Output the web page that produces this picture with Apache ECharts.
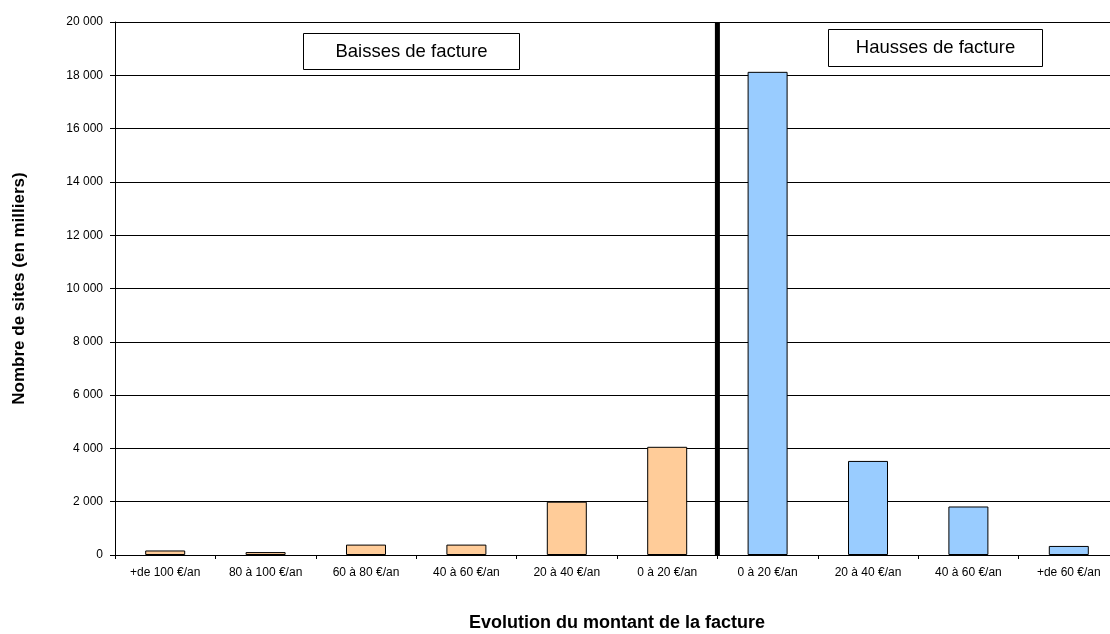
<!DOCTYPE html>
<html>
<head>
    <meta charset="utf-8">
    <title>Evolution du montant de la facture</title>
    <script src="https://cdn.jsdelivr.net/npm/echarts@6/dist/echarts.min.js"></script>
    <style>
        html, body { margin: 0; padding: 0; background: #fff; }
    </style>
</head>
<body>
    <div id="main" style="width: 1110px;height:634px;"></div>

<script>
// categories (baisses puis hausses)
var categories = ['+de 100 €/an', '80 à 100 €/an', '60 à 80 €/an', '40 à 60 €/an', '20 à 40 €/an', '0 à 20 €/an',
                  '0 à 20 €/an', '20 à 40 €/an', '40 à 60 €/an', '+de 60 €/an'];
// nombre de sites (en milliers)
var baisses = [170, 110, 390, 390, 2000, 4060, '-', '-', '-', '-'];
var hausses = ['-', '-', '-', '-', '-', '-', 18130, 3530, 1820, 340];
var yTicks = [0, 20000, 2000]; // min, max, interval

var font = 'Liberation Sans, Arial, sans-serif';

function fmt(v) {
    return String(v).replace(/\B(?=(\d{3})+(?!\d))/g, ' ');
}

var myChart = echarts.init(document.getElementById('main'));
myChart.setOption({
    animation: false,
    // le graphe déborde un peu à droite, comme l'original
    grid: { left: 115, top: 22, width: 1004, height: 533, outerBoundsMode: 'none' },
    xAxis: {
        type: 'category',
        data: categories,
        name: 'Evolution du montant de la facture',
        nameLocation: 'middle',
        nameGap: 59,
        nameTextStyle: { fontFamily: font, fontSize: 18, fontWeight: 'bold', color: '#000' },
        axisLine: { lineStyle: { color: '#000', width: 1 } },
        axisTick: { show: true, length: 4, lineStyle: { color: '#000' } },
        axisLabel: { fontFamily: font, fontSize: 12, color: '#000', margin: 12, interval: 0 }
    },
    yAxis: {
        type: 'value',
        min: yTicks[0],
        max: yTicks[1],
        interval: yTicks[2],
        name: 'Nombre de sites (en milliers)',
        nameLocation: 'middle',
        nameGap: 87,
        nameTextStyle: { fontFamily: font, fontSize: 17, fontWeight: 'bold', color: '#000' },
        axisLine: { show: true, lineStyle: { color: '#000', width: 1 } },
        axisTick: { show: true, length: 5, lineStyle: { color: '#000' } },
        axisLabel: { fontFamily: font, fontSize: 12, color: '#000', margin: 12, formatter: fmt },
        splitLine: { lineStyle: { color: '#000', width: 1 } }
    },
    series: [
        {
            name: 'Baisses',
            type: 'bar',
            data: baisses,
            barWidth: 40,
            barGap: '-100%',
            itemStyle: { color: '#FFCC99', borderColor: '#000', borderWidth: 1 }
        },
        {
            name: 'Hausses',
            type: 'bar',
            data: hausses,
            barWidth: 40,
            itemStyle: { color: '#99CCFF', borderColor: '#000', borderWidth: 1 }
        }
    ]
});

// séparation baisses / hausses, entre la 6e et la 7e catégorie
var p5 = myChart.convertToPixel({ xAxisIndex: 0 }, 5);
var p6 = myChart.convertToPixel({ xAxisIndex: 0 }, 6);
var sepX = (p5 + p6) / 2;
var yTop = myChart.convertToPixel({ yAxisIndex: 0 }, yTicks[1]);
var yBot = myChart.convertToPixel({ yAxisIndex: 0 }, yTicks[0]);

function box(x, y, w, h, txt) {
    return {
        type: 'group',
        children: [
            { type: 'rect', shape: { x: x, y: y, width: w, height: h },
              style: { fill: '#fff', stroke: '#000', lineWidth: 1 } },
            { type: 'text', x: x + w / 2, y: y + h / 2,
              style: { text: txt, font: '18.5px ' + font, fill: '#000', align: 'center', verticalAlign: 'middle' } }
        ]
    };
}

myChart.setOption({
    graphic: [
        { type: 'line', shape: { x1: sepX, y1: yTop, x2: sepX, y2: yBot },
          style: { stroke: '#000', lineWidth: 5 }, z: 10 },
        box(303.5, 33.5, 216, 36, 'Baisses de facture'),
        box(828.5, 29.5, 214, 37, 'Hausses de facture')
    ]
});
</script>

</body>
</html>
